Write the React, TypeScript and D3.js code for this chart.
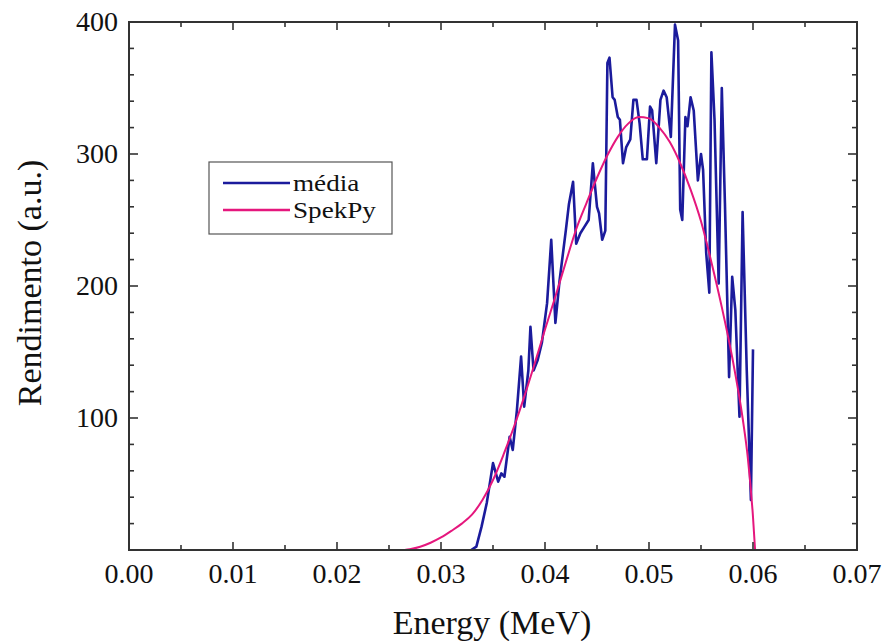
import React from "react";
import * as d3 from "d3";

const mediaX = [0.0329,0.0334,0.0339,0.0344,0.0350,0.0355,0.0358,0.0361,0.0366,0.0369,0.0373,0.0377,0.0380,0.0384,0.0386,0.0389,0.0393,0.0397,0.0402,0.0406,0.0410,0.0414,0.0420,0.0423,0.0427,0.0430,0.0434,0.0438,0.0442,0.0446,0.0450,0.0452,0.0455,0.0458,0.0460,0.0462,0.0465,0.0467,0.0470,0.0472,0.0475,0.0478,0.0482,0.0485,0.0488,0.0491,0.0494,0.0498,0.0501,0.0503,0.0507,0.0511,0.0514,0.0517,0.0521,0.0525,0.0528,0.0530,0.0532,0.0535,0.0537,0.0540,0.0543,0.0547,0.0550,0.0552,0.0555,0.0558,0.0560,0.0563,0.0567,0.0570,0.0573,0.0577,0.0580,0.0583,0.0587,0.0590,0.0594,0.0598,0.0600];
const mediaY = [0,2.5,17.7,35.6,65.8,51.8,58,55.5,85.8,75.8,106,146.5,108.6,136,169,136,144,157,187,235,172,204,242,262,279,232,240,245,250,293,260,255,235,242,369,373,343,341,328,326,293,305,311,341,341,323,296,296,336,333,293,341,348,343,313,398,386,258,250,328,321,343,333,280,300,288,225,195,377,326,202,350,263,131,207,182,101,256,136,38,152];

const spekX = [0.0265,0.0270,0.0280,0.0290,0.0300,0.0310,0.0320,0.0330,0.0340,0.0350,0.0360,0.0370,0.0380,0.0390,0.0400,0.0410,0.0420,0.0430,0.0440,0.0450,0.0460,0.0470,0.0480,0.0490,0.0500,0.0510,0.0520,0.0530,0.0540,0.0550,0.0560,0.0570,0.0580,0.0590,0.0595,0.0600,0.0602];
const spekY = [0,0.6,2.5,5.5,9.5,14.5,20,27,38,53,72,93,116,141,167,192,218,243,263,282,299,313,323,328,327,320,309,293,273,249,218,184,146,100,70,25,0];

const xTicks = [0, 0.01, 0.02, 0.03, 0.04, 0.05, 0.06, 0.07];
const yTicks = [100, 200, 300, 400];
const seriesNames = ["média", "SpekPy"];
const seriesColors = ["#1b1b9c", "#e5177d"];

export default function App() {
  const W = 885, H = 641;
  const L = 129, R = 857, T = 22, B = 550;
  const x = d3.scaleLinear().domain([0, 0.07]).range([L, R]);
  const y = d3.scaleLinear().domain([0, 400]).range([B, T]);
  const font = "'Liberation Serif', 'Times New Roman', serif";

  const line = d3.line<[number, number]>().x(d => x(d[0])).y(d => y(d[1]));
  const smooth = d3.line<[number, number]>().x(d => x(d[0])).y(d => y(d[1])).curve(d3.curveMonotoneX);
  const media = mediaX.map((v, i) => [v, mediaY[i]] as [number, number]);
  const spek = spekX.map((v, i) => [v, spekY[i]] as [number, number]);

  const xMinor = d3.range(0, 0.0701, 0.005);
  const yMinor = d3.range(0, 401, 20);
  const ax = "#333";

  return (
    <svg width={W} height={H} style={{ position: "absolute", left: 0, top: 0, background: "#fff" }}>
      <rect x={0} y={0} width={W} height={H} fill="#fff" />
      <path d={line(media) || ""} fill="none" stroke={seriesColors[0]} strokeWidth={2.6} strokeLinejoin="round" />
      <path d={smooth(spek) || ""} fill="none" stroke={seriesColors[1]} strokeWidth={2} />
      <rect x={L} y={T} width={R - L} height={B - T} fill="none" stroke={ax} strokeWidth={2} />
      {xMinor.map((t, i) => {
        const major = i % 2 === 0;
        const len = major ? 8 : 5;
        return (
          <g key={"xt" + i}>
            <line x1={x(t)} x2={x(t)} y1={B} y2={B - len} stroke={ax} strokeWidth={1.6} />
            <line x1={x(t)} x2={x(t)} y1={T} y2={T + len} stroke={ax} strokeWidth={1.6} />
          </g>
        );
      })}
      {yMinor.map((t, i) => {
        const major = i % 5 === 0;
        const len = major ? 9 : 5;
        return (
          <g key={"yt" + i}>
            <line x1={L} x2={L + len} y1={y(t)} y2={y(t)} stroke={ax} strokeWidth={1.6} />
            <line x1={R} x2={R - len} y1={y(t)} y2={y(t)} stroke={ax} strokeWidth={1.6} />
          </g>
        );
      })}
      {xTicks.map((t, i) => (
        <text key={"xl" + i} x={x(t)} y={583} textAnchor="middle" fontFamily={font} fontSize={28} fill="#111">
          {t.toFixed(2)}
        </text>
      ))}
      {yTicks.map((t, i) => (
        <text key={"yl" + i} x={118} y={y(t) + 9} textAnchor="end" fontFamily={font} fontSize={28} fill="#111">
          {t}
        </text>
      ))}
      <text x={492} y={634} textAnchor="middle" fontFamily={font} fontSize={34} fill="#111">
        Energy (MeV)
      </text>
      <text transform={`translate(41, ${283}) rotate(-90)`} textAnchor="middle" fontFamily={font} fontSize={34} fill="#111">
        Rendimento (a.u.)
      </text>
      <rect x={209} y={162} width={183} height={72} fill="#fff" stroke="#555" strokeWidth={1.2} />
      {seriesNames.map((n, i) => (
        <g key={"lg" + i}>
          <line x1={223} x2={290} y1={183 + i * 27} y2={183 + i * 27} stroke={seriesColors[i]} strokeWidth={2.5} />
          <text transform={`translate(293, ${191 + i * 27}) scale(1.18, 1)`} fontFamily={font} fontSize={23} fill="#111">{n}</text>
        </g>
      ))}
    </svg>
  );
}
